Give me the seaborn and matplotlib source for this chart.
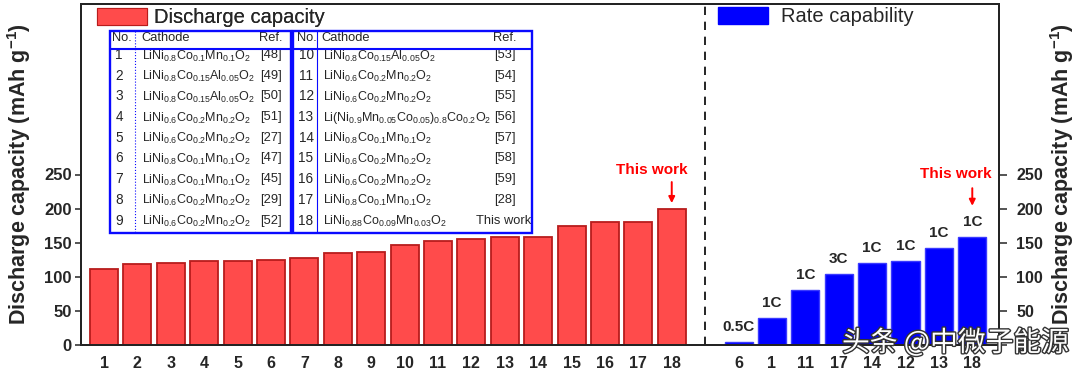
import numpy as np
import pandas as pd
import matplotlib
matplotlib.use("Agg")
import matplotlib.pyplot as plt
import seaborn as sns
from matplotlib.patches import Rectangle, Patch
from matplotlib.lines import Line2D
import matplotlib.patheffects as pe

# --- 数据 ---
ref_no = [str(i) for i in range(1, 19)]
ref_capacity = [111, 119, 120, 123, 123, 124, 127, 135, 136,
                146, 153, 155, 158, 158, 175, 180, 181, 200]

rate_no = ['6', '1', '11', '17', '14', '12', '13', '18']
rate_capacity = [4, 39, 80, 104, 120, 123, 142, 158]
rate_c = ['0.5C', '1C', '1C', '3C', '1C', '1C', '1C', '1C']

cathodes = [
    r'LiNi$_{0.8}$Co$_{0.1}$Mn$_{0.1}$O$_2$',
    r'LiNi$_{0.8}$Co$_{0.15}$Al$_{0.05}$O$_2$',
    r'LiNi$_{0.8}$Co$_{0.15}$Al$_{0.05}$O$_2$',
    r'LiNi$_{0.6}$Co$_{0.2}$Mn$_{0.2}$O$_2$',
    r'LiNi$_{0.6}$Co$_{0.2}$Mn$_{0.2}$O$_2$',
    r'LiNi$_{0.8}$Co$_{0.1}$Mn$_{0.1}$O$_2$',
    r'LiNi$_{0.8}$Co$_{0.1}$Mn$_{0.1}$O$_2$',
    r'LiNi$_{0.6}$Co$_{0.2}$Mn$_{0.2}$O$_2$',
    r'LiNi$_{0.6}$Co$_{0.2}$Mn$_{0.2}$O$_2$',
    r'LiNi$_{0.8}$Co$_{0.15}$Al$_{0.05}$O$_2$',
    r'LiNi$_{0.6}$Co$_{0.2}$Mn$_{0.2}$O$_2$',
    r'LiNi$_{0.6}$Co$_{0.2}$Mn$_{0.2}$O$_2$',
    r'Li(Ni$_{0.9}$Mn$_{0.05}$Co$_{0.05}$)$_{0.8}$Co$_{0.2}$O$_2$',
    r'LiNi$_{0.8}$Co$_{0.1}$Mn$_{0.1}$O$_2$',
    r'LiNi$_{0.6}$Co$_{0.2}$Mn$_{0.2}$O$_2$',
    r'LiNi$_{0.6}$Co$_{0.2}$Mn$_{0.2}$O$_2$',
    r'LiNi$_{0.8}$Co$_{0.1}$Mn$_{0.1}$O$_2$',
    r'LiNi$_{0.88}$Co$_{0.09}$Mn$_{0.03}$O$_2$',
]
refs = ['[48]', '[49]', '[50]', '[51]', '[27]', '[47]', '[45]', '[29]', '[52]',
        '[53]', '[54]', '[55]', '[56]', '[57]', '[58]', '[59]', '[28]', 'This work']

# --- 样式 ---
sns.set_style("ticks")
plt.rcParams['font.family'] = ['Liberation Sans', 'DejaVu Sans']
plt.rcParams['mathtext.fontset'] = 'custom'
plt.rcParams['mathtext.rm'] = 'Liberation Sans'
plt.rcParams['mathtext.it'] = 'Liberation Sans:italic'
plt.rcParams['mathtext.bf'] = 'Liberation Sans:bold'
plt.rcParams['mathtext.default'] = 'regular'

W, H = 1080, 371
fig = plt.figure(figsize=(W / 100, H / 100), dpi=100)
ax = fig.add_axes([81 / W, 1 - 345 / H, (999 - 81) / W, (345 - 4) / H])

pos_left = np.arange(1, len(ref_capacity) + 1)
pos_right = np.arange(len(ref_capacity) + 2, len(ref_capacity) + 2 + len(rate_capacity))
df_ref = pd.DataFrame({'pos': pos_left, 'cap': ref_capacity})
df_rate = pd.DataFrame({'pos': pos_right, 'cap': rate_capacity})

sns.barplot(data=df_ref, x='pos', y='cap', native_scale=True, orient='x',
            color='#ff4b4b', saturation=1, edgecolor='#b81c1c', linewidth=1.3,
            width=0.84, ax=ax)
sns.barplot(data=df_rate, x='pos', y='cap', native_scale=True, orient='x',
            color='#0000ff', saturation=1, edgecolor='#3a3aff', linewidth=1.0,
            width=0.84, ax=ax)

ax.bar_label(ax.containers[-1], labels=rate_c, padding=6, fontsize=11,
             fontweight='bold')

gap = len(ref_capacity) + 1
ax.axvline(gap, color='black', ls=(0, (5, 4)), lw=1.2)

ax.set_xlim(0.31, 27.8)
ax.set_ylim(0, 500)
ax.set_xticks(list(pos_left) + list(pos_right))
ax.set_xticklabels(ref_no + rate_no, fontsize=11.5, fontweight='bold')
ax.tick_params(axis='x', length=0, pad=8)
ax.set_yticks(range(0, 300, 50))
ax.set_yticklabels([str(v) for v in range(0, 300, 50)], fontsize=12, fontweight='bold')
ax.tick_params(axis='y', direction='out', length=4.5, width=1.1, pad=2)
ax.set_xlabel('')
ax.set_ylabel(r'Discharge capacity (mAh g$^{-1}$)', fontsize=15.5,
              fontweight='bold', labelpad=8)
for s in ax.spines.values():
    s.set_linewidth(1.3)
    s.set_color('black')

ax2 = ax.twinx()
ax2.set_ylim(0, 500)
ax2.set_yticks(range(0, 300, 50))
ax2.set_yticklabels([str(v) for v in range(0, 300, 50)], fontsize=11.5, fontweight='bold')
ax2.tick_params(axis='y', direction='out', length=5.8, width=1.1, pad=6.5)
ax2.set_ylabel(r'Discharge capacity (mAh g$^{-1}$)', fontsize=15.5,
               fontweight='bold', labelpad=4)
for s in ax2.spines.values():
    s.set_linewidth(1.3)

# This work 标注
for tx, ty in [(pos_left[-1] - 0.6, 257), (pos_right[-1] - 0.5, 250)]:
    ax.text(tx, ty, 'This work', color='red', fontsize=11, fontweight='bold',
            ha='center', va='center')
ax.annotate('', xy=(pos_left[-1], 204), xytext=(pos_left[-1], 243),
            arrowprops=dict(arrowstyle='-|>', color='red', lw=1.4, mutation_scale=9))
ax.annotate('', xy=(pos_right[-1], 200), xytext=(pos_right[-1], 234),
            arrowprops=dict(arrowstyle='-|>', color='red', lw=1.4, mutation_scale=9))

# 图例
leg1 = ax.legend(handles=[Patch(facecolor='#ff4b4b', edgecolor='#b81c1c', lw=0.8)],
                 labels=['Discharge capacity'], loc='upper left',
                 bbox_to_anchor=(0.017, 0.989), frameon=False, fontsize=14.5,
                 handlelength=2.5, handleheight=0.95, handletextpad=0.35,
                 borderpad=0, borderaxespad=0)
ax.add_artist(leg1)
ax2.legend(handles=[Patch(facecolor='#0000ff', edgecolor='#0000ff')],
           labels=['Rate capability'], loc='upper left',
           bbox_to_anchor=(0.694, 0.992), frameon=False, fontsize=14.5,
           handlelength=2.5, handleheight=0.95, handletextpad=0.6,
           borderpad=0, borderaxespad=0)

# 表格
def fx(x):
    return x / W

def fy(y):
    return 1 - y / H

blue = '#0a0aff'
fig.add_artist(Rectangle((fx(110), fy(233)), (291 - 110) / W, (233 - 31) / H,
                         transform=fig.transFigure, fill=False, ec=blue, lw=1.7, zorder=5))
fig.add_artist(Rectangle((fx(293), fy(233)), (532 - 293) / W, (233 - 31) / H,
                         transform=fig.transFigure, fill=False, ec=blue, lw=1.7, zorder=5))
fig.add_artist(Line2D([fx(110), fx(532)], [fy(49), fy(49)], transform=fig.transFigure,
                      color=blue, lw=1.5, zorder=5))
fig.add_artist(Line2D([fx(135), fx(135)], [fy(31), fy(233)], transform=fig.transFigure,
                      color=blue, lw=0.8, ls=':', zorder=5))
fig.add_artist(Line2D([fx(317), fx(317)], [fy(31), fy(233)], transform=fig.transFigure,
                      color=blue, lw=0.8, zorder=5))

tfs = 9
for x0, xc, xr in [(112, 141, 283), (297, 321, 516)]:
    fig.text(fx(x0), fy(38), 'No.', fontsize=tfs + 0.3, va='center', ha='left')
    fig.text(fx(xc), fy(38), 'Cathode', fontsize=tfs + 0.3, va='center', ha='left')
    fig.text(fx(xr), fy(38), 'Ref.', fontsize=tfs + 0.3, va='center', ha='right')

for i in range(len(cathodes)):
    col = i // 9
    row = i % 9
    y = 55 + row * 20.7
    if col == 0:
        xn, xf, xr = 119, 142, 282
    else:
        xn, xf, xr = 306, 323, 516
    if refs[i] == 'This work':
        xr = 531
    fig.text(fx(xn), fy(y), ref_no[i], fontsize=tfs + 0.8, va='center', ha='center')
    fig.text(fx(xf), fy(y + 1), cathodes[i], fontsize=tfs, va='center', ha='left')
    fig.text(fx(xr), fy(y), refs[i], fontsize=tfs + 0.3, va='center', ha='right')

# 水印
fig.text(fx(842), fy(343), '头条 @中微子能源', fontsize=20, color='white',
         va='center', ha='left', family=['Noto Sans CJK SC', 'DejaVu Sans'],
         path_effects=[pe.withStroke(linewidth=2, foreground='#333333')], zorder=10)

fig.savefig('out.png', dpi=100, facecolor='white')
